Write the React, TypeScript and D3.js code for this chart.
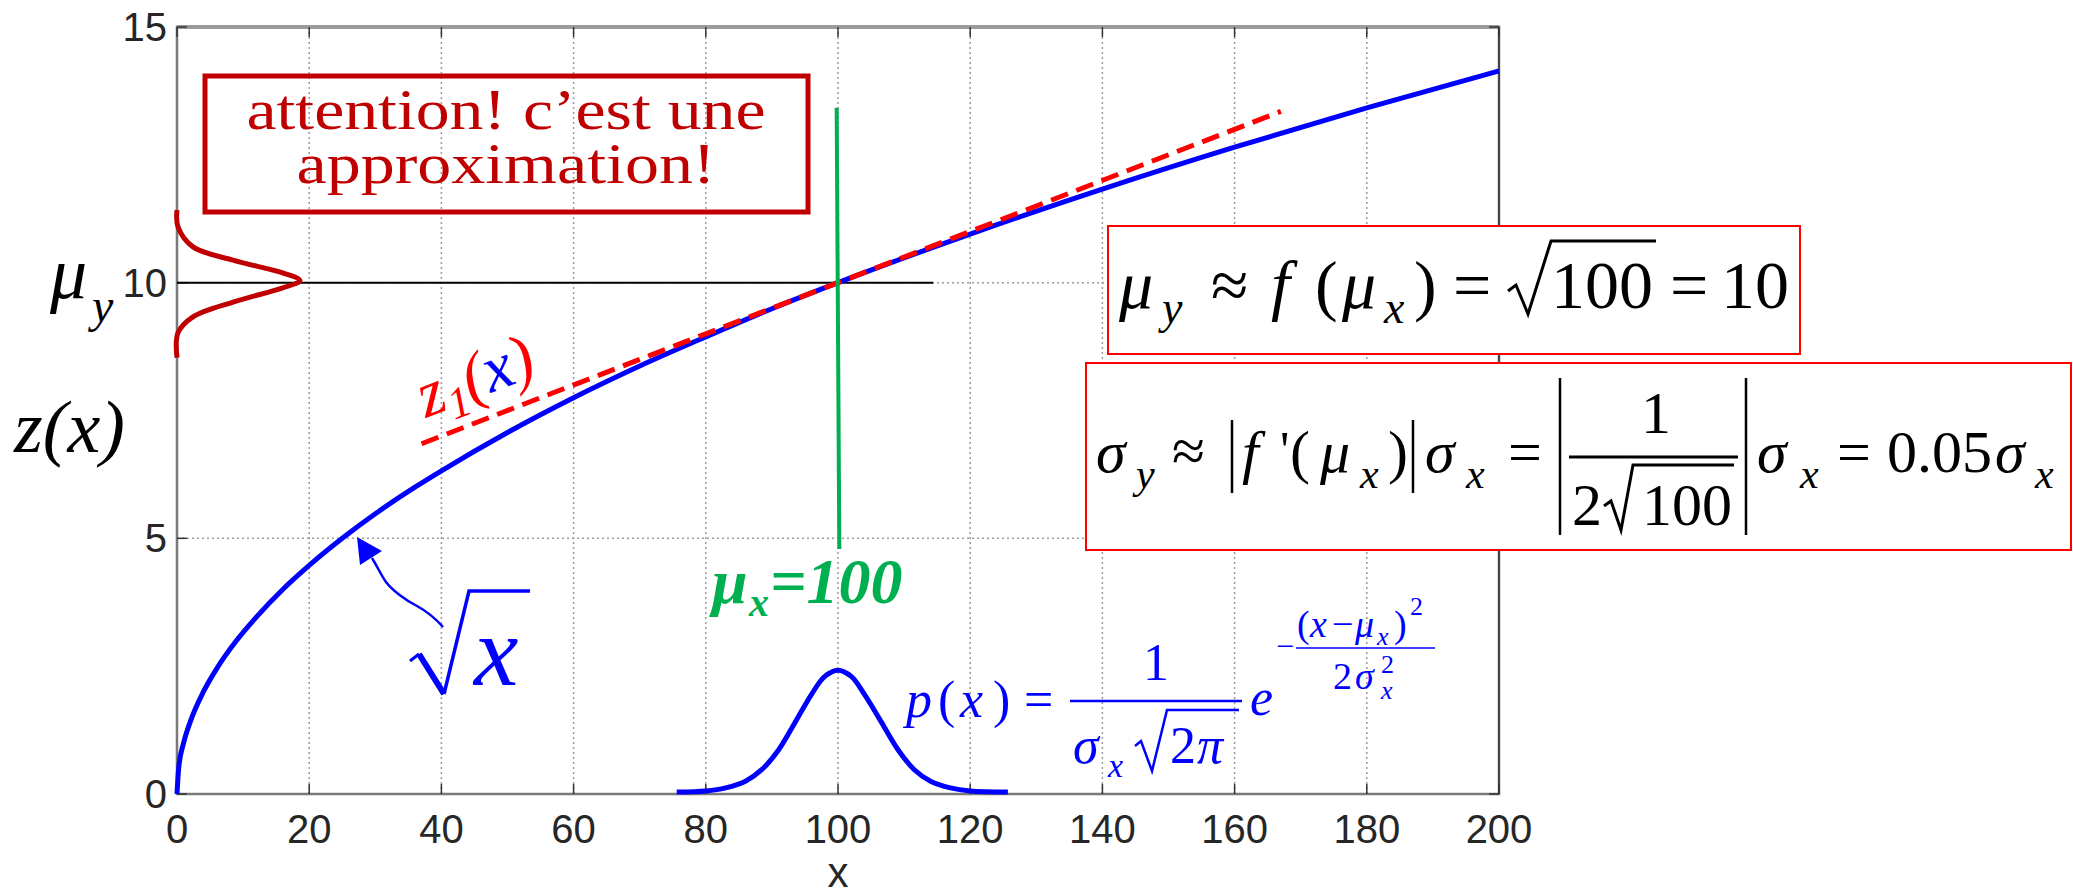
import React, { useRef, useEffect } from 'react'
import * as d3 from 'd3'

const W = 2073
const H = 896

// axis ticks
const xTicks = [0, 20, 40, 60, 80, 100, 120, 140, 160, 180, 200]
const yTicks = [0, 5, 10, 15]

// z(x) = sqrt(x)
const sqrtX = [0, 0.25, 1, 2, 4, 6, 9, 12, 16, 20, 25, 30, 36, 40, 50, 60, 70, 80, 90, 100, 120, 140, 160, 180, 200]
const sqrtZ = [0, 0.5, 1, 1.41, 2, 2.45, 3, 3.46, 4, 4.47, 5, 5.48, 6, 6.32, 7.07, 7.75, 8.37, 8.94, 9.49, 10, 10.95, 11.83, 12.65, 13.42, 14.14]

// tangent z1(x) (red dashed)
const tangentX = [37, 167]
const tangentZ = [6.85, 13.35]

// p(x) bump drawn on the x axis
const pdfX = [75.6, 80, 83, 86, 88.5, 91, 93.5, 96, 98, 100, 102, 104, 106.5, 109, 111.5, 114, 117, 120, 125.7]
const pdfZ = [0.04, 0.06, 0.12, 0.25, 0.48, 0.86, 1.4, 1.95, 2.3, 2.42, 2.3, 1.95, 1.42, 0.88, 0.48, 0.25, 0.12, 0.06, 0.04]

// p(y) bump drawn on the y axis (amplitude in x units)
const pyZ = [11.42, 11.09, 10.7, 10.44, 10.19, 10.04, 9.9, 9.62, 9.33, 9.02, 8.53]
const pyAmp = [0, 0.15, 2.42, 8.47, 16.0, 18.6, 16.0, 8.47, 2.42, 0.15, 0]

// horizontal line at mu_y and vertical line at mu_x
const muYLineX = [0, 114.4]
const muYLineZ = [10, 10]
const muXLineX = [99.8, 100.2]
const muXLineZ = [13.42, 4.79]

const SERIF = '"Liberation Serif", "Times New Roman", serif'
const SANS = '"Liberation Sans", Arial, sans-serif'
const BLUE = '#0000ff'
const RED = '#ff0000'
const DARKRED = '#c00000'
const GREEN = '#00b050'

const App = () => {
    const svgRef = useRef<SVGSVGElement>(null)

    useEffect(() => {
        document.body.style.margin = '0'
        const svg = d3.select(svgRef.current)
        svg.selectAll('*').remove()

        const x = d3.scaleLinear().domain([0, 200]).range([177, 1499])
        const y = d3.scaleLinear().domain([0, 15]).range([794, 27])

        const [x0, x1] = x.range()
        const [y0, y1] = y.range()

        // grid
        const grid = svg.append('g')
            .attr('stroke', '#9a9a9a')
            .attr('stroke-width', 1.5)
            .attr('stroke-dasharray', '2,3')
        grid.selectAll('line.gx').data(xTicks.slice(1, -1)).enter().append('line')
            .attr('x1', d => x(d)).attr('x2', d => x(d)).attr('y1', y1).attr('y2', y0)
        grid.selectAll('line.gy').data(yTicks.slice(1, -1)).enter().append('line')
            .attr('x1', x0).attr('x2', x1).attr('y1', d => y(d)).attr('y2', d => y(d))

        // box + ticks
        svg.append('rect')
            .attr('x', x0).attr('y', y1).attr('width', x1 - x0).attr('height', y0 - y1)
            .attr('fill', 'none').attr('stroke', '#7a7a7a').attr('stroke-width', 2.5)
        svg.append('line').attr('x1', x0).attr('x2', x1).attr('y1', y1).attr('y2', y1)
            .attr('stroke', '#9a9a9a').attr('stroke-width', 4)
        svg.append('line').attr('x1', x1).attr('x2', x1).attr('y1', y1).attr('y2', y0)
            .attr('stroke', '#444').attr('stroke-width', 2)
        const ticks = svg.append('g').attr('stroke', '#333').attr('stroke-width', 1.5)
        xTicks.forEach(t => {
            ticks.append('line').attr('x1', x(t)).attr('x2', x(t)).attr('y1', y0).attr('y2', y0 - 10)
            ticks.append('line').attr('x1', x(t)).attr('x2', x(t)).attr('y1', y1).attr('y2', y1 + 10)
        })
        yTicks.forEach(t => {
            ticks.append('line').attr('x1', x0).attr('x2', x0 + 10).attr('y1', y(t)).attr('y2', y(t))
            ticks.append('line').attr('x1', x1).attr('x2', x1 - 10).attr('y1', y(t)).attr('y2', y(t))
        })

        // tick labels
        svg.append('g').selectAll('text').data(xTicks).enter().append('text')
            .attr('x', d => x(d)).attr('y', 843)
            .attr('text-anchor', 'middle')
            .attr('font-family', SANS).attr('font-size', 40).attr('fill', '#262626')
            .text(d => d)
        svg.append('g').selectAll('text').data(yTicks).enter().append('text')
            .attr('x', 167).attr('y', d => y(d) + 14)
            .attr('text-anchor', 'end')
            .attr('font-family', SANS).attr('font-size', 40).attr('fill', '#262626')
            .text(d => d)
        svg.append('text').attr('x', 838).attr('y', 887).attr('text-anchor', 'middle')
            .attr('font-family', SANS).attr('font-size', 42).attr('fill', '#262626').text('x')

        const line = d3.line<[number, number]>().x(d => x(d[0])).y(d => y(d[1]))
        const smooth = d3.line<[number, number]>().x(d => x(d[0])).y(d => y(d[1]))
            .curve(d3.curveCatmullRom.alpha(0.5))

        // black line at mu_y
        svg.append('path')
            .datum(muYLineX.map((v, i) => [v, muYLineZ[i]] as [number, number]))
            .attr('d', line).attr('stroke', '#000').attr('stroke-width', 2).attr('fill', 'none')

        // red p(y) on the y axis
        svg.append('path')
            .datum(pyZ.map((v, i) => [pyAmp[i], v] as [number, number]))
            .attr('d', smooth).attr('stroke', DARKRED).attr('stroke-width', 5).attr('fill', 'none')

        // sqrt curve
        svg.append('path')
            .datum(sqrtX.map((v, i) => [v, sqrtZ[i]] as [number, number]))
            .attr('d', d3.line<[number, number]>().x(d => x(d[0])).y(d => y(d[1])).curve(d3.curveMonotoneX))
            .attr('stroke', BLUE).attr('stroke-width', 5).attr('fill', 'none')

        // tangent
        svg.append('path')
            .datum(tangentX.map((v, i) => [v, tangentZ[i]] as [number, number]))
            .attr('d', line).attr('stroke', RED).attr('stroke-width', 5)
            .attr('stroke-dasharray', '18,9').attr('fill', 'none')

        // green mu_x line
        svg.append('path')
            .datum(muXLineX.map((v, i) => [v, muXLineZ[i]] as [number, number]))
            .attr('d', line).attr('stroke', GREEN).attr('stroke-width', 4).attr('fill', 'none')

        // p(x) bump
        svg.append('path')
            .datum(pdfX.map((v, i) => [v, pdfZ[i]] as [number, number]))
            .attr('d', smooth)
            .attr('stroke', BLUE).attr('stroke-width', 5).attr('fill', 'none')

        // text helper
        const put = (s: string, px: number, py: number, size: number, fill: string, italic = false, bold = false, fam = SERIF) =>
            svg.append('text').attr('x', px).attr('y', py)
                .attr('font-family', fam).attr('font-size', size)
                .attr('font-style', italic ? 'italic' : 'normal')
                .attr('font-weight', bold ? 'bold' : 'normal')
                .attr('fill', fill).text(s)
        const stroke = (d: string, col: string, w: number) =>
            svg.append('path').attr('d', d).attr('stroke', col).attr('stroke-width', w).attr('fill', 'none')

        // attention box
        svg.append('rect').attr('x', 205).attr('y', 76).attr('width', 603).attr('height', 136)
            .attr('fill', 'none').attr('stroke', DARKRED).attr('stroke-width', 5)
        put("attention! c\u2019est une", 506, 129, 58, DARKRED)
            .attr('text-anchor', 'middle').attr('textLength', 519).attr('lengthAdjust', 'spacingAndGlyphs')
        put('approximation!', 506, 183, 58, DARKRED)
            .attr('text-anchor', 'middle').attr('textLength', 419).attr('lengthAdjust', 'spacingAndGlyphs')

        // left labels
        put('\u03bc', 50, 298, 74, '#000', true)
        put('y', 92, 322, 48, '#000', true)
        put('z(x)', 14, 452, 74, '#000', true)

        // z1(x) on the tangent
        const z1 = svg.append('text')
            .attr('transform', 'translate(426,418) rotate(-21)')
            .attr('font-family', SERIF).attr('font-style', 'italic').attr('font-size', 66).attr('fill', RED)
        z1.append('tspan').text('z')
        z1.append('tspan').attr('font-size', 44).attr('dy', 12).text('1')
        z1.append('tspan').attr('dy', -12).text('(')
        z1.append('tspan').attr('fill', BLUE).text('x')
        z1.append('tspan').text(')')

        // sqrt(x) label with arrow
        stroke('M443,627 C436,619 428,612 417,606 C405,600 392,590 386,582 C381,575 377,566 372,558', BLUE, 2.5)
        svg.append('path').attr('d', 'M357,537 L360,565 L382,551 Z').attr('fill', BLUE)
        stroke('M410,661 L419,654', BLUE, 3)
        stroke('M419,654 L444,694', BLUE, 6)
        stroke('M444,694 L469,591 L530,591', BLUE, 3.5)
        put('x', 474, 685, 100, BLUE, true)

        // mu_x = 100
        put('\u03bc', 712, 603, 64, GREEN, true, true)
        put('x', 749, 616, 40, GREEN, true, true)
        put('=100', 770, 603, 64, GREEN, true, true)

        // p(x) formula
        put('p', 906, 717, 52, BLUE, true)
        put('(', 938, 717, 52, BLUE)
        put('x', 960, 717, 52, BLUE, true)
        put(')', 993, 717, 52, BLUE)
        put('=', 1024, 717, 52, BLUE)
        stroke('M1070,701 L1242,701', BLUE, 2.5)
        put('1', 1143, 680, 52, BLUE)
        put('\u03c3', 1073, 763, 52, BLUE, true)
        put('x', 1108, 777, 34, BLUE, true)
        stroke('M1135,746 L1141,741 L1152,771 L1167,710 L1239,710', BLUE, 2.5)
        put('2', 1170, 763, 52, BLUE)
        put('\u03c0', 1197, 763, 52, BLUE, true)
        put('e', 1250, 715, 52, BLUE, true)
        put('\u2212', 1276, 657, 32, BLUE)
        stroke('M1296,648 L1435,648', BLUE, 1.5)
        put('(', 1297, 637, 38, BLUE)
        put('x', 1310, 637, 38, BLUE, true)
        put('\u2212', 1332, 637, 38, BLUE)
        put('\u03bc', 1355, 637, 38, BLUE, true)
        put('x', 1377, 645, 26, BLUE, true)
        put(')', 1394, 637, 38, BLUE)
        put('2', 1410, 615, 26, BLUE)
        put('2', 1333, 689, 38, BLUE)
        put('\u03c3', 1355, 689, 38, BLUE, true)
        put('2', 1381, 673, 26, BLUE)
        put('x', 1381, 699, 26, BLUE, true)

        // formula box 1
        svg.append('rect').attr('x', 1108).attr('y', 226).attr('width', 692).attr('height', 128)
            .attr('fill', '#fff').attr('stroke', RED).attr('stroke-width', 2)
        put('\u03bc', 1119, 308, 68, '#000', true)
        put('y', 1162, 323, 46, '#000', true)
        put('\u2248', 1211, 308, 68, '#000')
        put('f', 1271, 308, 68, '#000', true)
        put('(', 1315, 308, 68, '#000')
        put('\u03bc', 1342, 308, 68, '#000', true)
        put('x', 1384, 323, 46, '#000', true)
        put(')', 1414, 308, 68, '#000')
        put('=', 1453, 308, 68, '#000')
        stroke('M1508,291 L1516,285 L1528,314 L1551,241 L1656,241', '#000', 3)
        put('100', 1551, 308, 68, '#000')
        put('=', 1670, 308, 68, '#000')
        put('10', 1721, 308, 68, '#000')

        // formula box 2
        svg.append('rect').attr('x', 1086).attr('y', 363).attr('width', 985).attr('height', 187)
            .attr('fill', '#fff').attr('stroke', RED).attr('stroke-width', 2)
        put('\u03c3', 1096, 472, 60, '#000', true)
        put('y', 1136, 488, 42, '#000', true)
        put('\u2248', 1172, 471, 60, '#000')
        stroke('M1232,420 L1232,493', '#000', 2.5)
        put('f', 1242, 472, 60, '#000', true)
        put("'", 1280, 468, 52, '#000')
        put('(', 1290, 472, 60, '#000')
        put('\u03bc', 1320, 472, 60, '#000', true)
        put('x', 1360, 488, 42, '#000', true)
        put(')', 1388, 472, 60, '#000')
        stroke('M1413,420 L1413,493', '#000', 2.5)
        put('\u03c3', 1425, 472, 60, '#000', true)
        put('x', 1466, 488, 42, '#000', true)
        put('=', 1508, 472, 60, '#000')
        stroke('M1560,378 L1560,535', '#000', 2.5)
        put('1', 1641, 433, 60, '#000')
        stroke('M1569,457 L1738,457', '#000', 3)
        put('2', 1572, 525, 60, '#000')
        stroke('M1604,506 L1611,501 L1621,530 L1633,465 L1734,465', '#000', 3)
        put('100', 1642, 525, 60, '#000')
        stroke('M1746,378 L1746,535', '#000', 2.5)
        put('\u03c3', 1757, 472, 60, '#000', true)
        put('x', 1800, 488, 42, '#000', true)
        put('=', 1837, 472, 60, '#000')
        put('0.05', 1887, 472, 60, '#000')
        put('\u03c3', 1995, 472, 60, '#000', true)
        put('x', 2035, 488, 42, '#000', true)
    }, [])

    return (
        <svg ref={svgRef} width={W} height={H} style={{ display: 'block', background: '#fff' }}></svg>
    )
}

export default App
